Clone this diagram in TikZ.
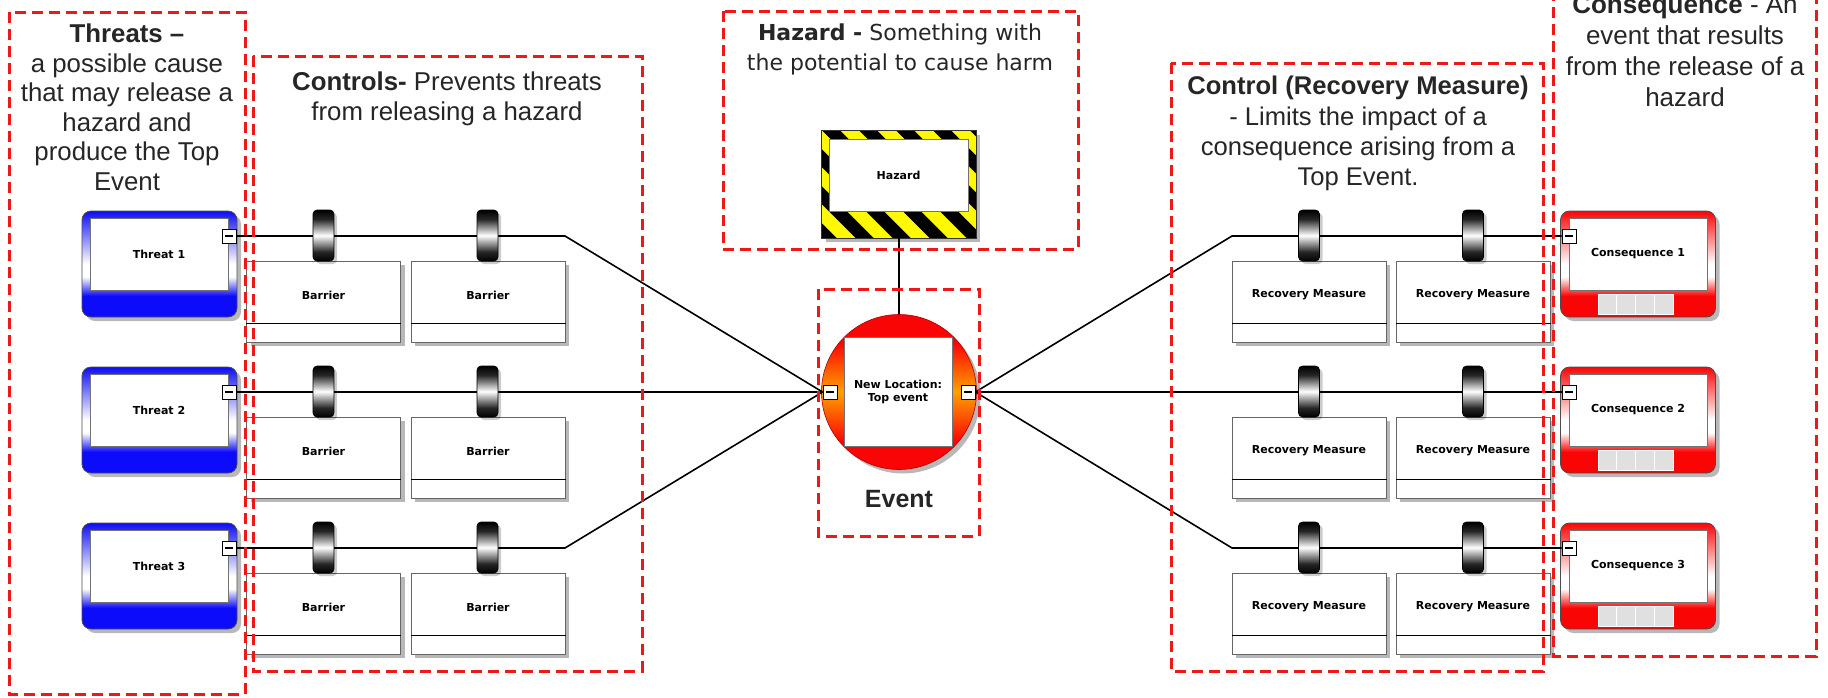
\documentclass[tikz,border=0pt]{standalone}
\usepackage{fontspec}
\setmainfont{Liberation Sans}
\newfontfamily\dvs{DejaVu Sans}
\usetikzlibrary{calc,shadows}
\definecolor{dashred}{RGB}{238,24,24}
\definecolor{tblue}{RGB}{12,12,250}
\definecolor{cred}{RGB}{250,5,5}
\definecolor{evorange}{RGB}{255,160,0}
\definecolor{txt}{RGB}{38,38,38}
\definecolor{hzyellow}{RGB}{255,250,0}
\colorlet{tabdark}{black!85}
\pgfdeclareverticalshading{threatsh}{100bp}{color(0bp)=(tblue); color(25bp)=(tblue); color(35bp)=(tblue); color(44bp)=(white); color(50bp)=(white); color(75bp)=(tblue); color(100bp)=(tblue)}
\pgfdeclareverticalshading{conssh}{100bp}{color(0bp)=(cred); color(25bp)=(cred); color(35bp)=(cred); color(44bp)=(white); color(50bp)=(white); color(75bp)=(cred); color(100bp)=(cred)}
\pgfdeclareverticalshading{evsh}{100bp}{color(0bp)=(cred); color(25bp)=(cred); color(34bp)=(cred); color(50bp)=(evorange); color(66bp)=(cred); color(75bp)=(cred); color(100bp)=(cred)}
\pgfdeclareverticalshading{tabsh}{100bp}{color(0bp)=(black); color(25bp)=(black); color(34bp)=(tabdark); color(50bp)=(white); color(66bp)=(tabdark); color(75bp)=(black); color(100bp)=(black)}
\tikzset{
  conn/.style={line width=1.6pt, draw=black},
  dashbox/.style={draw=dashred, line width=3pt, dash pattern=on 11pt off 6pt},
  anno/.style={align=center, inner sep=0pt, text=txt, anchor=north},
  boxshadow/.style={drop shadow={shadow xshift=4pt, shadow yshift=-4pt, fill=black, opacity=0.28}},
  threatbox/.style={rectangle, rounded corners=9pt, minimum width=155pt, minimum height=106pt, shading=threatsh, draw=black!70, line width=0.8pt, boxshadow},
  consbox/.style={threatbox, shading=conssh},
  innerbox/.style={rectangle, fill=white, draw=black!55, line width=0.8pt, minimum width=138pt, minimum height=72pt, inner sep=0pt, align=center, font=\dvs\bfseries\fontsize{11}{13}\selectfont},
  barrierbox/.style={rectangle, fill=white, draw=black!60, line width=1pt, minimum width=154pt, minimum height=81pt, inner sep=0pt, boxshadow},
  barrierlbl/.style={inner sep=0pt, font=\dvs\bfseries\fontsize{11}{13}\selectfont},
  tabbox/.style={rectangle, rounded corners=4pt, minimum width=21pt, minimum height=51pt, shading=tabsh, draw=black, line width=0.6pt, drop shadow={shadow xshift=3pt, shadow yshift=-3pt, fill=black, opacity=0.2}},
  minusbox/.style={rectangle, fill=white, draw=black, line width=0.9pt, minimum size=14pt, inner sep=0pt,
    path picture={\draw[line width=1.3pt] ($(path picture bounding box.west)+(3pt,0pt)$) -- ($(path picture bounding box.east)+(-3pt,0pt)$);}},
  graysq/.style={rectangle, fill=black!12, draw=white, line width=1pt, minimum width=18.75pt, minimum height=20pt, inner sep=0pt}
}
\begin{document}
\begin{tikzpicture}[x=1pt, y=-1pt]
\clip (0,0) rectangle (1828,697);
\fill[white] (0,0) rectangle (1828,697);

% ---- left side: threats and barriers
\foreach \r/\dy in {1/0,2/156,3/312} {
  \node[threatbox] (t\r) at (159.5,264+\dy) {};
  \node[innerbox] (ti\r) at (159,254+\dy) {Threat \r};
  \node[minusbox] (tm\r) at (229,236+\dy) {};
  \node[barrierbox] (b\r a) at (323.5,301.5+\dy) {};
  \node[barrierbox] (b\r b) at (488,301.5+\dy) {};
  \draw[black, line width=1.2pt] ($(b\r a.south west)+(0,-19)$) -- ($(b\r a.south east)+(0,-19)$);
  \draw[black, line width=1.2pt] ($(b\r b.south west)+(0,-19)$) -- ($(b\r b.south east)+(0,-19)$);
  \node[barrierlbl] (bl\r a) at (323.5,295+\dy) {Barrier};
  \node[barrierlbl] (bl\r b) at (488,295+\dy) {Barrier};
  % right side
  \node[consbox] (c\r) at (1638,264+\dy) {};
  \node[innerbox] (ci\r) at (1638,254+\dy) {Consequence \r};
  \foreach \k in {1,2,3,4} {
    \node[graysq] (sq\r\k) at (1598+18.75*\k-9.375,304+\dy) {};
  }
  \node[minusbox] (cm\r) at (1569,236+\dy) {};
  \node[barrierbox] (r\r a) at (1309,301.5+\dy) {};
  \node[barrierbox] (r\r b) at (1473,301.5+\dy) {};
  \draw[black, line width=1.2pt] ($(r\r a.south west)+(0,-19)$) -- ($(r\r a.south east)+(0,-19)$);
  \draw[black, line width=1.2pt] ($(r\r b.south west)+(0,-19)$) -- ($(r\r b.south east)+(0,-19)$);
  \node[barrierlbl] (rl\r a) at (1309,295+\dy) {Recovery Measure};
  \node[barrierlbl] (rl\r b) at (1473,295+\dy) {Recovery Measure};
}

% ---- hazard
\node[rectangle, fill=hzyellow, minimum width=154pt, minimum height=107pt, inner sep=0pt, boxshadow] (hz) at (899,184.5) {};
\begin{scope}
  \clip (hz.south west) rectangle (hz.north east);
  \foreach \i in {-7,...,7} {
    \fill[black] ($(hz.center)+(\i*37-9,-60)$) -- ++(18,0) -- ++(120,120) -- ++(-18,0) -- cycle;
  }
\end{scope}
\draw[black!80, line width=0.8pt] (hz.south west) rectangle (hz.north east);
\node[innerbox, minimum width=139pt] (hzi) at (898.5,175) {Hazard};

% ---- top event
\node[circle, minimum size=155pt, inner sep=0pt, shading=evsh, draw=red!70!black, line width=0.6pt, boxshadow] (ev) at (899,392) {};
\node[innerbox, minimum width=108pt, minimum height=109pt] (evi) at (898,391.5) {New Location:\\Top event};
\node[minusbox] (evml) at (830,392) {};
\node[minusbox] (evmr) at (968,392) {};

% ---- connectors
\coordinate (kL1) at (565,236);
\coordinate (kL3) at (565,548);
\coordinate (kR1) at (1232,236);
\coordinate (kR3) at (1232,548);
\draw[conn] (tm1.east) -- (kL1) -- (evml.west);
\draw[conn] (tm2.east) -- (evml.west);
\draw[conn] (tm3.east) -- (kL3) -- (evml.west);
\draw[conn] (evmr.east) -- (kR1) -- (cm1.west);
\draw[conn] (evmr.east) -- (cm2.west);
\draw[conn] (evmr.east) -- (kR3) -- (cm3.west);
\draw[conn, line width=1.4pt] (hz.south) -- (ev.north);

% ---- tabs
\foreach \r/\dy in {1/0,2/156,3/312} {
  \node[tabbox] (tb\r a) at (323.5,235.5+\dy) {};
  \node[tabbox] (tb\r b) at (487.5,235.5+\dy) {};
  \node[tabbox] (tr\r a) at (1309,235.5+\dy) {};
  \node[tabbox] (tr\r b) at (1473,235.5+\dy) {};
}

% ---- dashed frames
\draw[dashbox] (9,12) rectangle (245,694);
\draw[dashbox] (253,56) rectangle (642,671);
\draw[dashbox] (723,11) rectangle (1078,249);
\draw[dashbox] (818,289) rectangle (979,536);
\draw[dashbox] (1171,63) rectangle (1543,671);
\draw[dashbox] (1553,-10) rectangle (1816,656);

% ---- annotation texts
\node[anno, font=\fontsize{25.8}{29.6}\selectfont] (athreat) at (127,23.5)
  {{\bfseries Threats –}\\a possible cause\\that may release a\\hazard and\\produce the Top\\Event};
\node[anno, font=\fontsize{25.8}{30}\selectfont] (actrl) at (447,72)
  {{\bfseries Controls-} Prevents threats\\from releasing a hazard};
\node[anno, font=\dvs\fontsize{22}{30}\selectfont] (ahaz) at (900,23.5)
  {{\bfseries Hazard -} Something with\\the potential to cause harm};
\node[anno, anchor=center, font=\bfseries\fontsize{25}{30}\selectfont] (aev) at (899,499) {Event};
\node[anno, font=\fontsize{25.6}{30.3}\selectfont] (arec) at (1358,76)
  {{\bfseries Control (Recovery Measure)}\\- Limits the impact of a\\consequence arising from a\\Top Event.};
\node[anno, font=\fontsize{26}{31}\selectfont] (acons) at (1685,-4.8)
  {{\bfseries Consequence} - An\\event that results\\from the release of a\\hazard};
\end{tikzpicture}
\end{document}
